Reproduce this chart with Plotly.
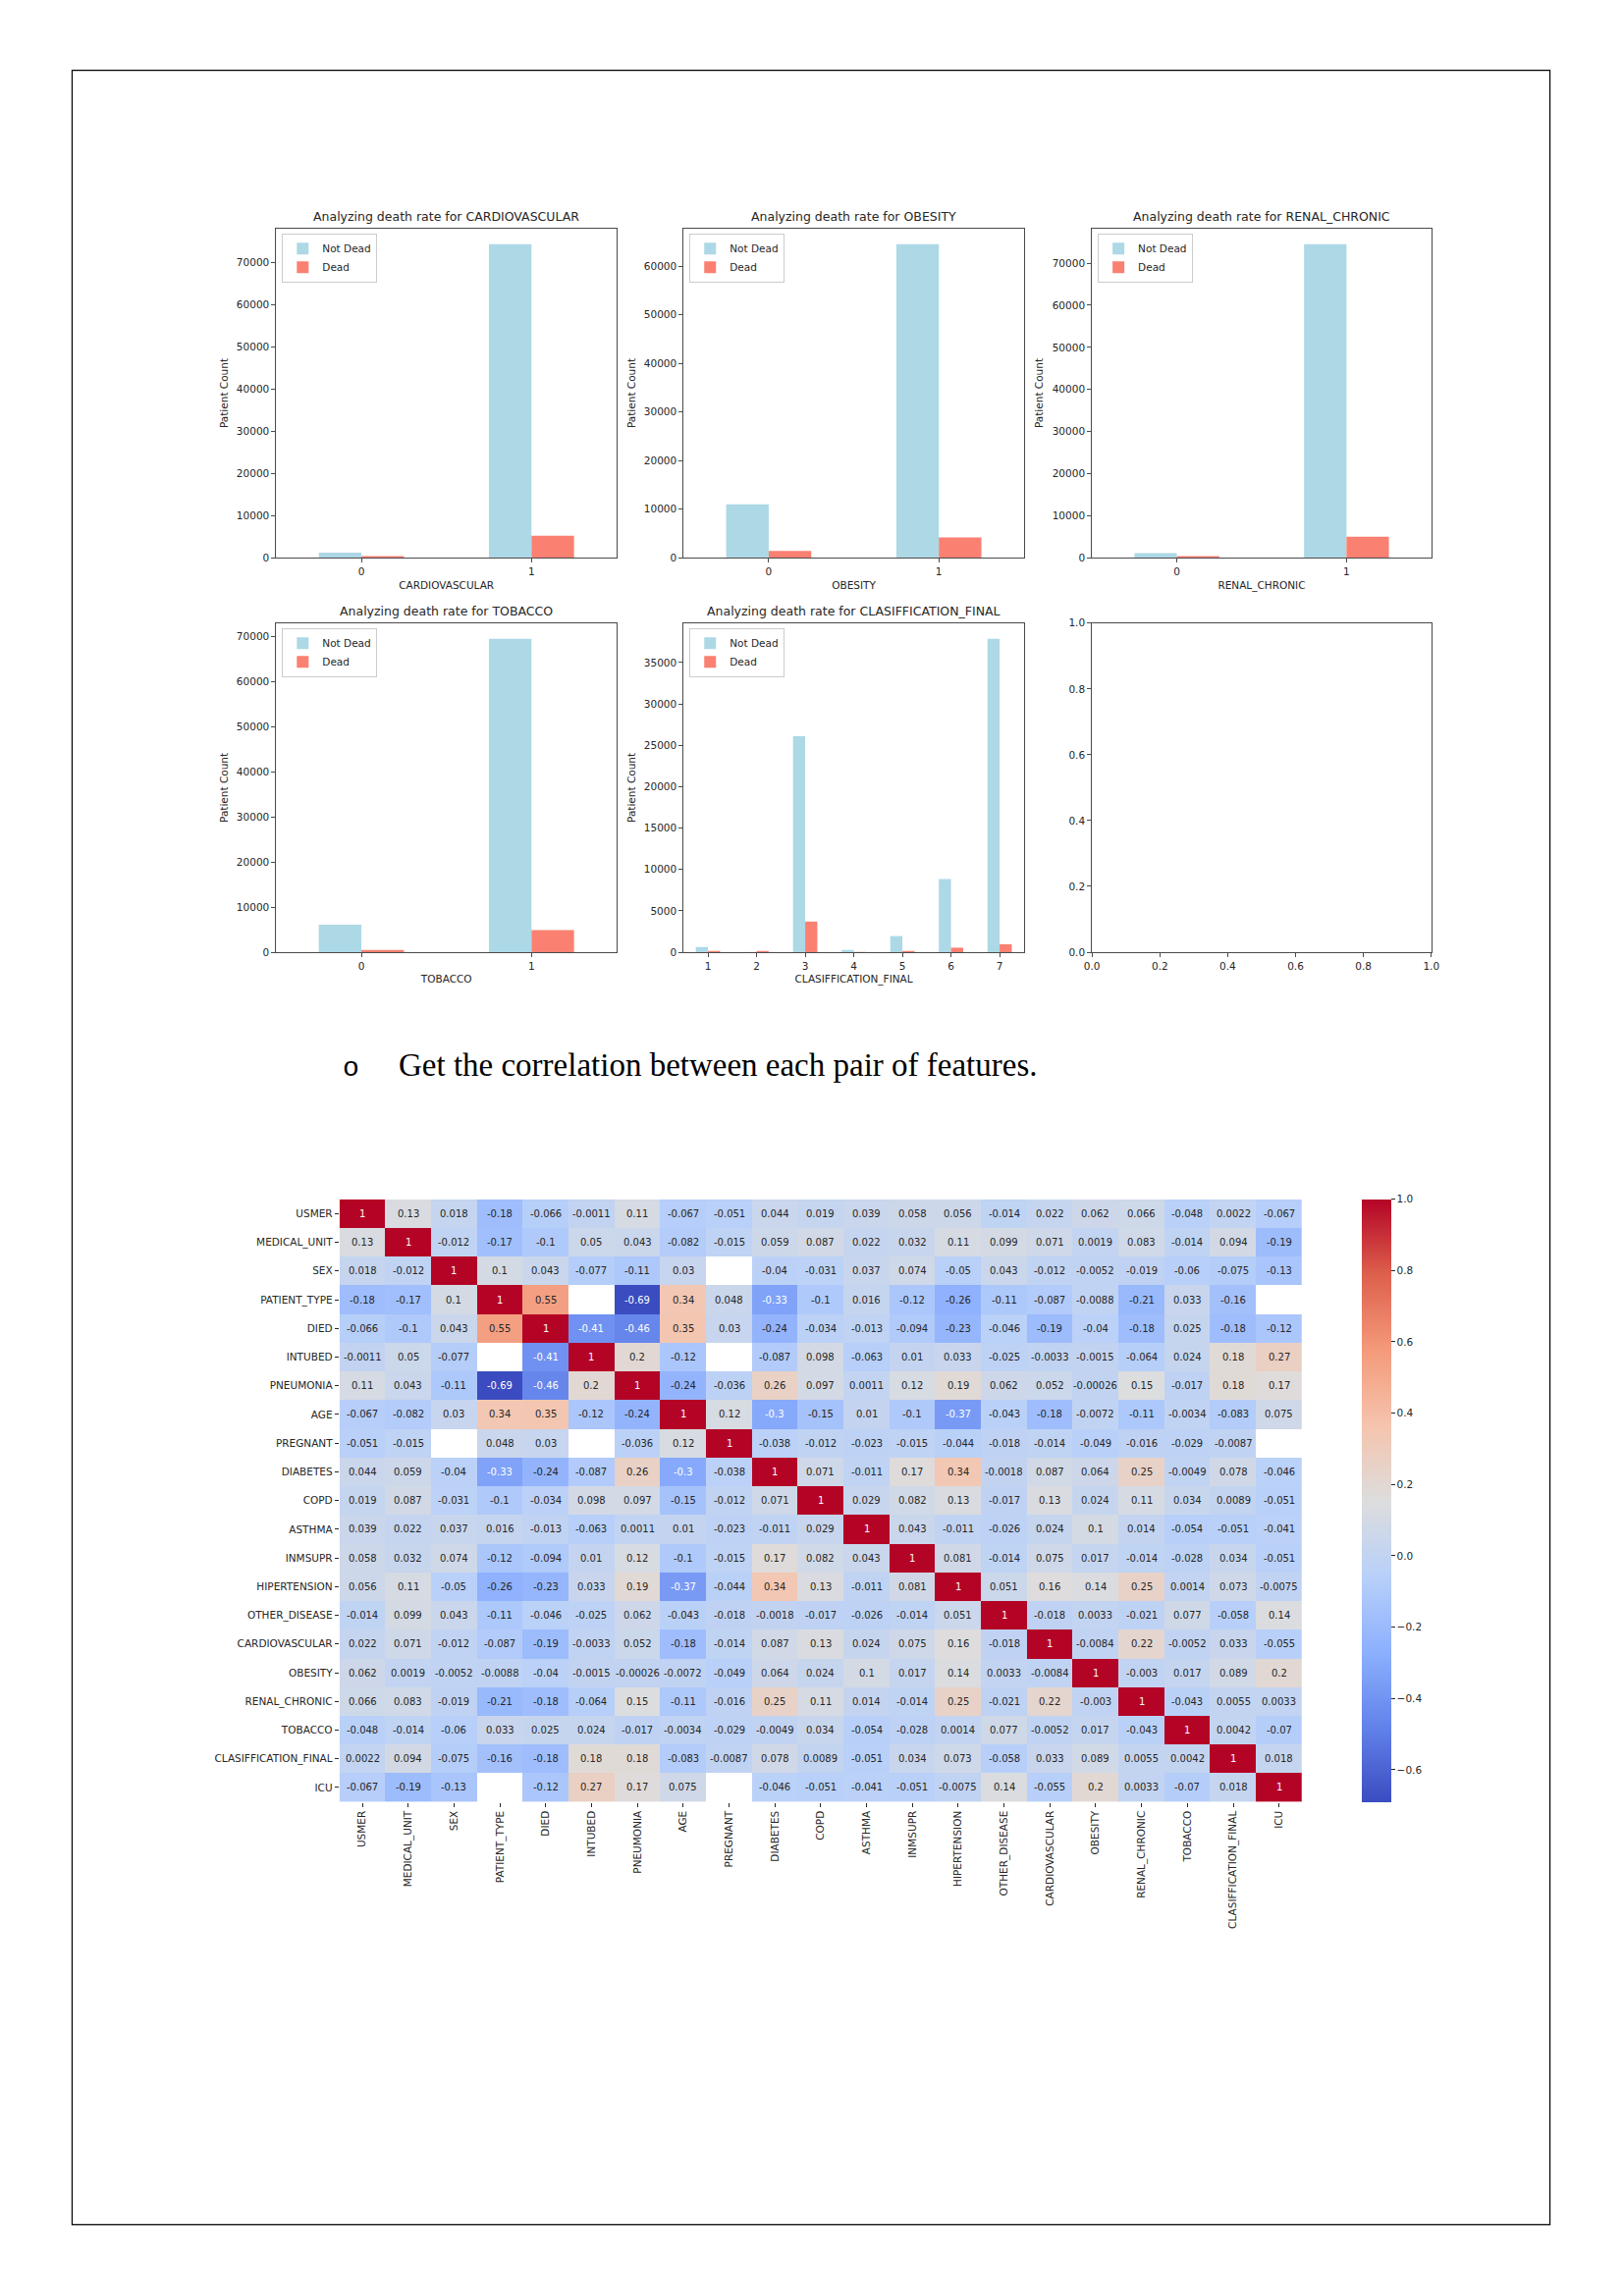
import numpy as np
import plotly.graph_objects as go

# Page size and the body margin that the browser puts around the plot div
W, H = 1653, 2339
PAD = 8
FW, FH = W - 2 * PAD, H - 2 * PAD
nan = None

# ---------------- bar chart data ----------------
cardio_cats = ["0", "1"]
cardio_not_dead = [1200, 74400]
cardio_dead = [400, 5200]

obesity_cats = ["0", "1"]
obesity_not_dead = [11000, 64500]
obesity_dead = [1400, 4150]

renal_cats = ["0", "1"]
renal_not_dead = [1100, 74500]
renal_dead = [400, 5000]

tobacco_cats = ["0", "1"]
tobacco_not_dead = [6100, 69500]
tobacco_dead = [500, 4900]

clf_cats = ["1", "2", "3", "4", "5", "6", "7"]
clf_not_dead = [620, 30, 26100, 280, 1950, 8850, 37870]
clf_dead = [150, 150, 3700, 10, 150, 550, 940]

# ---------------- correlation data ----------------
features = ["USMER", "MEDICAL_UNIT", "SEX", "PATIENT_TYPE", "DIED", "INTUBED", "PNEUMONIA",
            "AGE", "PREGNANT", "DIABETES", "COPD", "ASTHMA", "INMSUPR", "HIPERTENSION",
            "OTHER_DISEASE", "CARDIOVASCULAR", "OBESITY", "RENAL_CHRONIC", "TOBACCO",
            "CLASIFFICATION_FINAL", "ICU"]

corr_usmer = [1, 0.13, 0.018, -0.18, -0.066, -0.0011, 0.11, -0.067, -0.051, 0.044, 0.019, 0.039, 0.058, 0.056, -0.014, 0.022, 0.062, 0.066, -0.048, 0.0022, -0.067]
corr_medical_unit = [0.13, 1, -0.012, -0.17, -0.1, 0.05, 0.043, -0.082, -0.015, 0.059, 0.087, 0.022, 0.032, 0.11, 0.099, 0.071, 0.0019, 0.083, -0.014, 0.094, -0.19]
corr_sex = [0.018, -0.012, 1, 0.1, 0.043, -0.077, -0.11, 0.03, nan, -0.04, -0.031, 0.037, 0.074, -0.05, 0.043, -0.012, -0.0052, -0.019, -0.06, -0.075, -0.13]
corr_patient_type = [-0.18, -0.17, 0.1, 1, 0.55, nan, -0.69, 0.34, 0.048, -0.33, -0.1, 0.016, -0.12, -0.26, -0.11, -0.087, -0.0088, -0.21, 0.033, -0.16, nan]
corr_died = [-0.066, -0.1, 0.043, 0.55, 1, -0.41, -0.46, 0.35, 0.03, -0.24, -0.034, -0.013, -0.094, -0.23, -0.046, -0.19, -0.04, -0.18, 0.025, -0.18, -0.12]
corr_intubed = [-0.0011, 0.05, -0.077, nan, -0.41, 1, 0.2, -0.12, nan, -0.087, 0.098, -0.063, 0.01, 0.033, -0.025, -0.0033, -0.0015, -0.064, 0.024, 0.18, 0.27]
corr_pneumonia = [0.11, 0.043, -0.11, -0.69, -0.46, 0.2, 1, -0.24, -0.036, 0.26, 0.097, 0.0011, 0.12, 0.19, 0.062, 0.052, -0.00026, 0.15, -0.017, 0.18, 0.17]
corr_age = [-0.067, -0.082, 0.03, 0.34, 0.35, -0.12, -0.24, 1, 0.12, -0.3, -0.15, 0.01, -0.1, -0.37, -0.043, -0.18, -0.0072, -0.11, -0.0034, -0.083, 0.075]
corr_pregnant = [-0.051, -0.015, nan, 0.048, 0.03, nan, -0.036, 0.12, 1, -0.038, -0.012, -0.023, -0.015, -0.044, -0.018, -0.014, -0.049, -0.016, -0.029, -0.0087, nan]
corr_diabetes = [0.044, 0.059, -0.04, -0.33, -0.24, -0.087, 0.26, -0.3, -0.038, 1, 0.071, -0.011, 0.17, 0.34, -0.0018, 0.087, 0.064, 0.25, -0.0049, 0.078, -0.046]
corr_copd = [0.019, 0.087, -0.031, -0.1, -0.034, 0.098, 0.097, -0.15, -0.012, 0.071, 1, 0.029, 0.082, 0.13, -0.017, 0.13, 0.024, 0.11, 0.034, 0.0089, -0.051]
corr_asthma = [0.039, 0.022, 0.037, 0.016, -0.013, -0.063, 0.0011, 0.01, -0.023, -0.011, 0.029, 1, 0.043, -0.011, -0.026, 0.024, 0.1, 0.014, -0.054, -0.051, -0.041]
corr_inmsupr = [0.058, 0.032, 0.074, -0.12, -0.094, 0.01, 0.12, -0.1, -0.015, 0.17, 0.082, 0.043, 1, 0.081, -0.014, 0.075, 0.017, -0.014, -0.028, 0.034, -0.051]
corr_hipertension = [0.056, 0.11, -0.05, -0.26, -0.23, 0.033, 0.19, -0.37, -0.044, 0.34, 0.13, -0.011, 0.081, 1, 0.051, 0.16, 0.14, 0.25, 0.0014, 0.073, -0.0075]
corr_other_disease = [-0.014, 0.099, 0.043, -0.11, -0.046, -0.025, 0.062, -0.043, -0.018, -0.0018, -0.017, -0.026, -0.014, 0.051, 1, -0.018, 0.0033, -0.021, 0.077, -0.058, 0.14]
corr_cardiovascular = [0.022, 0.071, -0.012, -0.087, -0.19, -0.0033, 0.052, -0.18, -0.014, 0.087, 0.13, 0.024, 0.075, 0.16, -0.018, 1, -0.0084, 0.22, -0.0052, 0.033, -0.055]
corr_obesity = [0.062, 0.0019, -0.0052, -0.0088, -0.04, -0.0015, -0.00026, -0.0072, -0.049, 0.064, 0.024, 0.1, 0.017, 0.14, 0.0033, -0.0084, 1, -0.003, 0.017, 0.089, 0.2]
corr_renal_chronic = [0.066, 0.083, -0.019, -0.21, -0.18, -0.064, 0.15, -0.11, -0.016, 0.25, 0.11, 0.014, -0.014, 0.25, -0.021, 0.22, -0.003, 1, -0.043, 0.0055, 0.0033]
corr_tobacco = [-0.048, -0.014, -0.06, 0.033, 0.025, 0.024, -0.017, -0.0034, -0.029, -0.0049, 0.034, -0.054, -0.028, 0.0014, 0.077, -0.0052, 0.017, -0.043, 1, 0.0042, -0.07]
corr_clasiffication_final = [0.0022, 0.094, -0.075, -0.16, -0.18, 0.18, 0.18, -0.083, -0.0087, 0.078, 0.0089, -0.051, 0.034, 0.073, -0.058, 0.033, 0.089, 0.0055, 0.0042, 1, 0.018]
corr_icu = [-0.067, -0.19, -0.13, nan, -0.12, 0.27, 0.17, 0.075, nan, -0.046, -0.051, -0.041, -0.051, -0.0075, 0.14, -0.055, 0.2, 0.0033, -0.07, 0.018, 1]

corr_rows = [corr_usmer, corr_medical_unit, corr_sex, corr_patient_type, corr_died, corr_intubed,
             corr_pneumonia, corr_age, corr_pregnant, corr_diabetes, corr_copd, corr_asthma,
             corr_inmsupr, corr_hipertension, corr_other_disease, corr_cardiovascular,
             corr_obesity, corr_renal_chronic, corr_tobacco, corr_clasiffication_final, corr_icu]
corr = np.array([[np.nan if v is None else v for v in r] for r in corr_rows], dtype=float)

# ---------------- styling ----------------
FONT = "DejaVu Sans"
TXT = "#262626"
SPINE = "#4a4a4a"
C_ND = "#ADD8E6"
C_D = "#FA8072"

coolwarm = [
    [0.0, "rgb(59,76,192)"], [0.125, "rgb(98,130,234)"], [0.25, "rgb(141,176,254)"],
    [0.375, "rgb(184,208,249)"], [0.5, "rgb(221,221,221)"], [0.625, "rgb(245,196,173)"],
    [0.75, "rgb(244,154,123)"], [0.875, "rgb(222,96,77)"], [1.0, "rgb(180,4,38)"],
]

# page pixel -> paper fraction
def px(x):
    return (x - PAD) / FW

def py(y):
    return 1 - (y - PAD) / FH

def xdom(a, b):
    return [px(a), px(b)]

def ydom(top, bottom):
    return [py(bottom), py(top)]

cols = [(276, 626), (695, 1045), (1115, 1464)]
rows = [(228, 565), (632, 969)]

panels = [
    ("CARDIOVASCULAR", cardio_cats, cardio_not_dead, cardio_dead, 10000, 0, 0),
    ("OBESITY", obesity_cats, obesity_not_dead, obesity_dead, 10000, 1, 0),
    ("RENAL_CHRONIC", renal_cats, renal_not_dead, renal_dead, 10000, 2, 0),
    ("TOBACCO", tobacco_cats, tobacco_not_dead, tobacco_dead, 10000, 0, 1),
    ("CLASIFFICATION_FINAL", clf_cats, clf_not_dead, clf_dead, 5000, 1, 1),
]

def axis_base(**kw):
    d = dict(showline=True, linecolor=SPINE, linewidth=1, mirror=True, ticks="outside",
             ticklen=4, tickwidth=1, tickcolor=SPINE, showgrid=False, zeroline=False,
             tickfont=dict(family=FONT, size=10.5, color=TXT))
    d.update(kw)
    return d

fig = go.Figure()
layout = dict(width=FW, height=FH, margin=dict(l=0, r=0, t=0, b=0),
              paper_bgcolor="white", plot_bgcolor="white",
              barmode="group", bargap=0.5, bargroupgap=0,
              font=dict(family=FONT, size=10.5, color=TXT))
annotations = []

for i, (name, cats, nd, d, dt, c, r) in enumerate(panels, start=1):
    sfx = "" if i == 1 else str(i)
    leg = "legend" if i == 1 else f"legend{i}"
    x0, x1 = cols[c]
    y0, y1 = rows[r]
    fig.add_trace(go.Bar(x=cats, y=nd, name="Not Dead", marker=dict(color=C_ND, line=dict(width=0)),
                         xaxis="x" + sfx, yaxis="y" + sfx, legend=leg))
    fig.add_trace(go.Bar(x=cats, y=d, name="Dead", marker=dict(color=C_D, line=dict(width=0)),
                         xaxis="x" + sfx, yaxis="y" + sfx, legend=leg))
    ymax = max(max(nd), max(d)) * 1.05
    layout["xaxis" + sfx] = axis_base(domain=xdom(x0, x1), anchor="y" + sfx, type="category",
                                      title=dict(text=name, standoff=5, font=dict(size=10.5, color=TXT)))
    layout["yaxis" + sfx] = axis_base(domain=ydom(y0, y1), anchor="x" + sfx, range=[0, ymax],
                                      dtick=dt, tick0=0, tickformat="d",
                                      title=dict(text="Patient Count", standoff=6, font=dict(size=10.5, color=TXT)))
    layout[leg] = dict(x=px(x0 + 6), y=py(y0 + 5), xanchor="left", yanchor="top",
                       bordercolor="#cccccc", borderwidth=1, bgcolor="rgba(255,255,255,0.8)",
                       font=dict(family=FONT, size=10.5, color=TXT), tracegroupgap=0)
    annotations.append(dict(text=f"Analyzing death rate for {name}", xref="paper", yref="paper",
                            x=px((x0 + x1) / 2), y=py(y0), xanchor="center", yanchor="bottom",
                            yshift=3, showarrow=False, font=dict(family=FONT, size=12.5, color=TXT)))

# empty sixth panel
x0, x1 = cols[2]
y0, y1 = rows[1]
fig.add_trace(go.Scatter(x=[], y=[], xaxis="x6", yaxis="y6", showlegend=False))
layout["xaxis6"] = axis_base(domain=xdom(x0, x1), anchor="y6", range=[0, 1], dtick=0.2, tick0=0, tickformat=".1f")
layout["yaxis6"] = axis_base(domain=ydom(y0, y1), anchor="x6", range=[0, 1], dtick=0.2, tick0=0, tickformat=".1f")

# heatmap
hx0, hx1, hy0, hy1 = 341, 1331, 1222, 1839
zmin = float(np.nanmin(corr))
fig.add_trace(go.Heatmap(
    z=corr, x=features, y=features, colorscale=coolwarm, zmin=zmin, zmax=1,
    xaxis="x7", yaxis="y7", hoverongaps=False, showscale=True,
    colorbar=dict(x=px(1393), xanchor="left", y=py((hy0 + hy1) / 2), yanchor="middle",
                  len=(hy1 - hy0) / FH, lenmode="fraction", thickness=30, thicknessmode="pixels",
                  xpad=0, ypad=0, outlinewidth=0, ticks="outside", ticklen=4, tickcolor=TXT,
                  tick0=0, dtick=0.2, tickformat=".1f",
                  tickfont=dict(family=FONT, size=10.5, color=TXT)),
))
layout["xaxis7"] = dict(domain=xdom(hx0, hx1), anchor="y7", type="category", tickangle=-90,
                        ticks="outside", ticklen=4, tickcolor=TXT, showgrid=False, zeroline=False,
                        showline=False, tickfont=dict(family=FONT, size=10.5, color=TXT))
layout["yaxis7"] = dict(domain=ydom(hy0, hy1), anchor="x7", type="category", autorange="reversed",
                        ticks="outside", ticklen=4, tickcolor=TXT, showgrid=False, zeroline=False,
                        showline=False, tickfont=dict(family=FONT, size=10.5, color=TXT))

for ri, rname in enumerate(features):
    for ci, cname in enumerate(features):
        v = corr[ri, ci]
        if np.isnan(v):
            continue
        color = "white" if (v > 0.8 or v < -0.27) else TXT
        annotations.append(dict(x=cname, y=rname, xref="x7", yref="y7", text=f"{v:.2g}",
                                showarrow=False, font=dict(family=FONT, size=10, color=color)))

# document text
annotations.append(dict(text="o", xref="paper", yref="paper", x=px(353), y=py(1088),
                        xanchor="center", yanchor="middle", showarrow=False,
                        font=dict(family="Liberation Mono", size=28, color="black")))
annotations.append(dict(text="Get the correlation between each pair of features.", xref="paper", yref="paper",
                        x=px(400), y=py(1085), xanchor="left", yanchor="middle", showarrow=False,
                        font=dict(family="Liberation Serif", size=33, color="black")))

layout["annotations"] = annotations
layout["shapes"] = [dict(type="rect", xref="paper", yref="paper", x0=px(66), x1=px(1586),
                         y0=py(2272), y1=py(66), line=dict(color="black", width=1.2))]

fig.update_layout(**layout)
fig.write_html("out.html", config={"displayModeBar": False})
